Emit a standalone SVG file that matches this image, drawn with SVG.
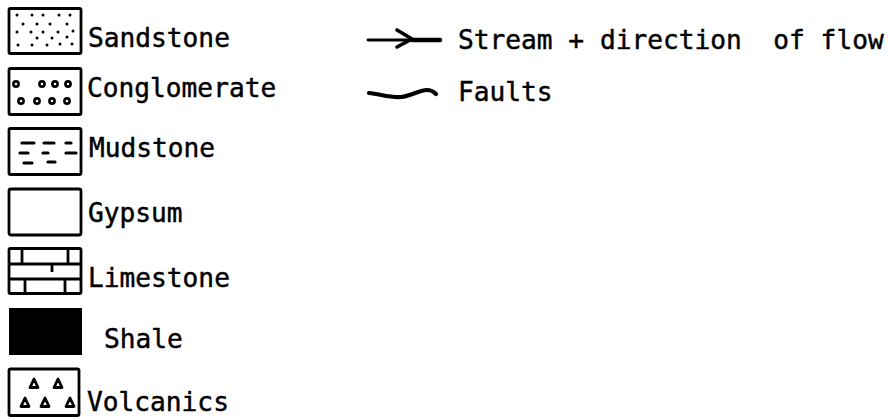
<svg xmlns="http://www.w3.org/2000/svg" width="888" height="419" viewBox="0 0 888 419">
  <style>
    .box { fill: #fff; stroke: #000; stroke-width: 2.8; stroke-linejoin: round; }
    .lbl { font-family: "DejaVu Sans Mono", "Liberation Mono", monospace; font-size: 26.2px; fill: #000; stroke: #000; stroke-width: 0.45; }
    .dot { fill: #000; }
    .ring { fill: none; stroke: #000; stroke-width: 2.6; }
    .dash { stroke: #000; stroke-width: 3.2; stroke-linecap: round; }
    .brick { stroke: #000; stroke-width: 2.8; fill: none; }
    .tri { fill: none; stroke: #000; stroke-width: 2.8; stroke-linejoin: round; }
    .sym { fill: none; stroke: #000; stroke-linecap: round; stroke-linejoin: round; }
  </style>
  <rect width="888" height="419" fill="#fff"/>

  <!-- Sandstone: scattered dots -->
  <g id="sandstone">
    <rect class="box" x="9" y="8.5" width="72" height="45" rx="1.5"/>
    <g class="dot">
      <circle cx="17" cy="15" r="1.5"/><circle cx="32" cy="15" r="1.5"/><circle cx="43" cy="15" r="1.5"/><circle cx="59" cy="15" r="1.5"/><circle cx="70" cy="15" r="1.5"/>
      <circle cx="23" cy="24" r="1.5"/><circle cx="37" cy="24" r="1.5"/><circle cx="50" cy="24" r="1.5"/><circle cx="67" cy="24" r="1.5"/>
      <circle cx="17" cy="32" r="1.5"/><circle cx="31" cy="32" r="1.5"/><circle cx="43" cy="32" r="1.5"/><circle cx="58" cy="32" r="1.5"/><circle cx="73" cy="31" r="1.5"/>
      <circle cx="37" cy="38" r="1.5"/><circle cx="52" cy="38" r="1.5"/><circle cx="67" cy="37" r="1.5"/>
      <circle cx="18" cy="45" r="1.5"/><circle cx="32" cy="45" r="1.5"/><circle cx="47" cy="45" r="1.5"/><circle cx="60" cy="44" r="1.5"/><circle cx="72" cy="44" r="1.5"/>
    </g>
    <text class="lbl" x="88" y="47">Sandstone</text>
  </g>

  <!-- Conglomerate: small pebbles -->
  <g id="conglomerate">
    <rect class="box" x="9" y="68.5" width="72" height="46" rx="1.5"/>
    <g class="ring">
      <circle cx="16" cy="84" r="2.6"/><circle cx="42" cy="84" r="2.6"/><circle cx="55" cy="84" r="2.6"/><circle cx="68" cy="84" r="2.6"/>
      <circle cx="21" cy="101" r="2.6"/><circle cx="37" cy="101" r="2.6"/><circle cx="52" cy="101" r="2.6"/><circle cx="67" cy="101" r="2.6"/>
    </g>
    <text class="lbl" x="87" y="97">Conglomerate</text>
  </g>

  <!-- Mudstone: short dashes -->
  <g id="mudstone">
    <rect class="box" x="9" y="128.5" width="72" height="46" rx="1.5"/>
    <g class="dash">
      <line x1="22" y1="143" x2="34" y2="143"/><line x1="44" y1="143" x2="54" y2="143"/><line x1="66" y1="143" x2="71" y2="143"/>
      <line x1="20" y1="153" x2="28" y2="153"/><line x1="43" y1="153" x2="48" y2="153"/><line x1="66" y1="153" x2="76" y2="153"/>
      <line x1="24" y1="163" x2="32" y2="163"/><line x1="48" y1="162" x2="55" y2="162"/>
    </g>
    <text class="lbl" x="89" y="157">Mudstone</text>
  </g>

  <!-- Gypsum: blank -->
  <g id="gypsum">
    <rect class="box" x="9" y="189" width="72" height="46" rx="2"/>
    <text class="lbl" x="88" y="222">Gypsum</text>
  </g>

  <!-- Limestone: brick courses -->
  <g id="limestone">
    <rect class="box" x="9" y="248.5" width="72" height="45" rx="1.5"/>
    <g class="brick">
      <line x1="9" y1="264" x2="81" y2="264"/>
      <line x1="9" y1="279" x2="81" y2="279"/>
      <line x1="22" y1="248.5" x2="22" y2="264"/>
      <line x1="68" y1="248.5" x2="68" y2="264"/>
      <line x1="52" y1="264" x2="52" y2="272"/>
      <line x1="25" y1="279" x2="25" y2="293.5"/>
      <line x1="65" y1="279" x2="65" y2="293.5"/>
    </g>
    <text class="lbl" x="88" y="287">Limestone</text>
  </g>

  <!-- Shale: solid fill -->
  <g id="shale">
    <rect x="9" y="308" width="73" height="47" fill="#000"/>
    <text class="lbl" x="104" y="348">Shale</text>
  </g>

  <!-- Volcanics: open triangles -->
  <g id="volcanics">
    <rect class="box" x="9" y="369" width="70" height="46.5" rx="1.5"/>
    <g class="tri">
      <path d="M34,379 L38,387.5 L30,387.5 Z"/>
      <path d="M58,379 L62,387.5 L54,387.5 Z"/>
      <path d="M25,398 L29,406.5 L21,406.5 Z"/>
      <path d="M45,398 L49,406.5 L41,406.5 Z"/>
      <path d="M70,398 L74,406.5 L66,406.5 Z"/>
    </g>
    <text class="lbl" x="87" y="411">Volcanics</text>
  </g>

  <!-- Line symbols -->
  <g id="connectors">
    <g id="stream">
      <path class="sym" d="M368,40 L412,40" stroke-width="2.8"/>
      <path class="sym" d="M397,30 L412,39 L397,47" stroke-width="3.6"/>
      <path class="sym" d="M412,40 L440,40" stroke-width="4.4"/>
      <text class="lbl" x="458" y="49" xml:space="preserve">Stream + direction  of flow</text>
    </g>
    <g id="faults">
      <path class="sym" d="M369,93 C380,94 390,98 401,97 C412,96 419,90 427,90 C431,90 434,92 436,94" stroke-width="4.2"/>
      <text class="lbl" x="458" y="101">Faults</text>
    </g>
  </g>
</svg>
